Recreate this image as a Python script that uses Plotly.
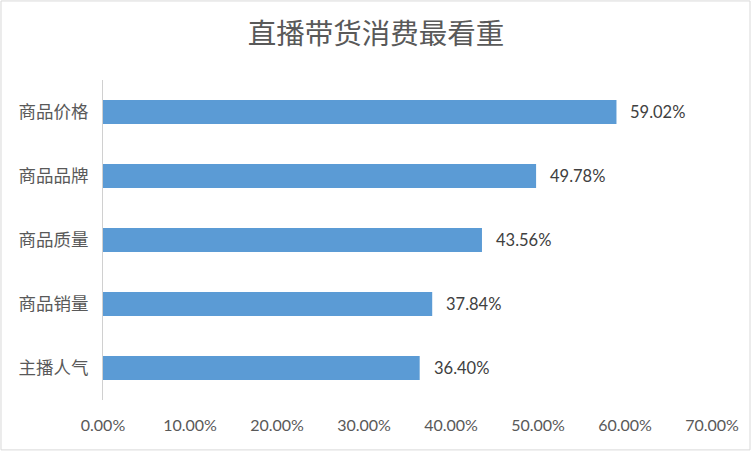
import plotly.graph_objs as go

categories = ['商品价格', '商品品牌', '商品质量', '商品销量', '主播人气']
values = [59.02, 49.78, 43.56, 37.84, 36.40]
tick_vals = [0, 10, 20, 30, 40, 50, 60, 70]
tick_text = ['0.00%', '10.00%', '20.00%', '30.00%', '40.00%', '50.00%', '60.00%', '70.00%']

cjk = 'Noto Sans CJK SC'
num = 'Lato, ' + cjk

fig = go.Figure()
fig.add_trace(go.Bar(
    x=values, y=categories, orientation='h',
    marker=dict(color='#5B9BD5', line=dict(width=0)),
))

# value labels next to the bars
for v, c in zip(values, categories):
    fig.add_annotation(x=v, y=c, text='%.2f%%' % v, showarrow=False, xanchor='left',
                       xshift=12, font=dict(family=num, size=16.5, color='#404040'))

fig.update_layout(
    width=752, height=452,
    margin=dict(l=103, r=40, t=80, b=52),
    paper_bgcolor='white', plot_bgcolor='white',
    showlegend=False, bargap=0.625,
    title=dict(text='直播带货消费最看重', x=0.5, xanchor='center', y=0.925, yanchor='middle',
               font=dict(family=cjk, size=28.5, color='#595959')),
    xaxis=dict(range=[0, 70], tickvals=tick_vals, ticktext=tick_text, showgrid=False,
               zeroline=False, showline=False, ticks='', ticklabelstandoff=14,
               tickfont=dict(family=num, size=16, color='#595959')),
    yaxis=dict(categoryorder='array', categoryarray=categories[::-1], showgrid=False,
               showline=True, linecolor='#d0d0d0', linewidth=1, ticks='', ticklabelstandoff=10,
               tickfont=dict(family=cjk, size=17.5, color='#595959')),
    shapes=[dict(type='rect', xref='paper', yref='paper', x0=-0.1675, x1=1.0624,
                 y0=-0.156, y1=1.247, line=dict(color='#d9d9d9', width=1))],
)

fig.write_html('out.html', config={'displayModeBar': False},
               post_script="document.body.style.margin='0';")
